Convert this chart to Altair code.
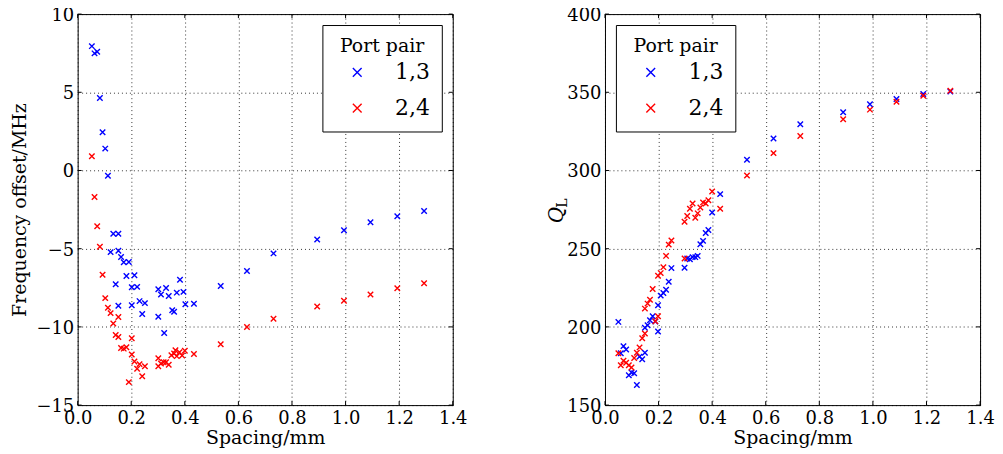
import altair as alt
import pandas as pd

# ---------------- data ----------------
# Left panel: frequency offset (MHz) vs spacing (mm)
f13_x = [0.053, 0.063, 0.073, 0.083, 0.093, 0.103, 0.113, 0.123, 0.133, 0.142, 0.152, 0.152, 0.152,
         0.162, 0.172, 0.182, 0.191, 0.202, 0.202, 0.212, 0.222, 0.231, 0.241, 0.251, 0.301, 0.301,
         0.311, 0.323, 0.330, 0.340, 0.353, 0.360, 0.370, 0.382, 0.395, 0.402, 0.434, 0.534, 0.632,
         0.731, 0.894, 0.994, 1.093, 1.193, 1.293]
f13_y = [7.95, 7.49, 7.59, 4.64, 2.44, 1.40, -0.34, -5.22, -4.05, -7.27, -4.05, -5.13, -8.65,
         -5.53, -5.87, -6.74, -5.85, -7.46, -8.61, -6.70, -7.44, -8.35, -9.18, -8.48, -7.59, -9.35,
         -7.93, -10.39, -7.51, -8.02, -8.93, -9.03, -7.81, -6.98, -7.76, -8.55, -8.52, -7.38, -6.43,
         -5.30, -4.41, -3.82, -3.31, -2.93, -2.59]
f24_x = [0.053, 0.063, 0.073, 0.083, 0.093, 0.103, 0.113, 0.123, 0.133, 0.142, 0.152, 0.152, 0.162,
         0.172, 0.182, 0.191, 0.202, 0.202, 0.212, 0.222, 0.231, 0.241, 0.251, 0.301, 0.301, 0.311,
         0.321, 0.330, 0.340, 0.350, 0.360, 0.365, 0.370, 0.380, 0.390, 0.400, 0.434, 0.534, 0.632,
         0.731, 0.894, 0.994, 1.093, 1.193, 1.293]
f24_y = [0.91, -1.70, -3.56, -4.88, -6.66, -8.16, -8.78, -9.12, -9.78, -10.52, -10.65, -9.37, -11.35,
         -11.39, -11.30, -13.53, -10.73, -11.77, -12.21, -12.68, -12.38, -13.15, -12.51, -12.00, -12.51, -12.34,
         -12.26, -12.26, -12.42, -11.81, -11.70, -11.49, -11.87, -11.62, -11.83, -11.53, -11.73, -11.11, -10.01,
         -9.48, -8.69, -8.33, -7.93, -7.53, -7.21]

# Right panel: loaded Q vs spacing (mm)
q13_x = [0.050, 0.059, 0.069, 0.079, 0.089, 0.099, 0.109, 0.119, 0.129, 0.139, 0.149, 0.149, 0.159,
         0.168, 0.178, 0.188, 0.198, 0.198, 0.208, 0.218, 0.228, 0.238, 0.248, 0.297, 0.307, 0.317,
         0.327, 0.337, 0.346, 0.356, 0.366, 0.376, 0.386, 0.400, 0.430, 0.530, 0.629, 0.729, 0.889,
         0.989, 1.088, 1.188, 1.289]
q13_y = [203.2, 183.1, 187.7, 185.6, 169.1, 170.8, 170.4, 162.9, 181.0, 179.3, 183.5, 199.4, 201.1,
         204.3, 206.8, 203.4, 197.1, 213.8, 220.0, 221.7, 223.8, 228.9, 237.6, 237.8, 243.7, 243.3,
         244.6, 244.6, 245.4, 252.9, 255.0, 260.0, 262.0, 273.2, 284.9, 306.9, 320.5, 329.6, 337.2,
         342.3, 345.7, 348.9, 350.5]
q24_x = [0.050, 0.059, 0.069, 0.079, 0.089, 0.099, 0.109, 0.119, 0.129, 0.139, 0.149, 0.149, 0.159,
         0.168, 0.178, 0.188, 0.198, 0.198, 0.208, 0.218, 0.228, 0.238, 0.248, 0.297, 0.297, 0.307,
         0.317, 0.327, 0.337, 0.346, 0.356, 0.366, 0.376, 0.386, 0.400, 0.430, 0.530, 0.629, 0.729,
         0.889, 0.989, 1.088, 1.188, 1.289]
q24_y = [183.1, 175.5, 178.4, 177.1, 175.5, 174.0, 180.1, 183.5, 186.9, 192.8, 195.8, 211.7, 214.9,
         217.4, 224.2, 203.6, 206.8, 232.7, 234.4, 238.2, 245.4, 252.6, 255.2, 243.7, 267.2, 270.9,
         275.5, 278.9, 269.8, 272.6, 276.4, 279.6, 278.9, 281.0, 286.6, 275.5, 296.8, 311.1, 322.0,
         332.8, 338.9, 344.0, 347.8, 351.0]

pairs = ["1,3", "2,4"]
pair_colors = ["#0000ff", "#ff0000"]

x_ticks = [0.0, 0.2, 0.4, 0.6, 0.8, 1.0, 1.2, 1.4]
f_ticks = [-15, -10, -5, 0, 5, 10]
q_ticks = [150, 200, 250, 300, 350, 400]

# ---------------- styling ----------------
W, H = 377, 393
FONT = "DejaVu Serif"
XPATH = "M-1,-1L1,1M-1,1L1,-1"
XPATH_LEG = "M-0.4,-0.4L0.4,0.4M-0.4,0.4L0.4,-0.4"
TL = 4  # inward tick length


def long_df(xs_a, ys_a, xs_b, ys_b):
    return pd.DataFrame({
        "spacing": list(xs_a) + list(xs_b),
        "val": list(ys_a) + list(ys_b),
        "pair": [pairs[0]] * len(xs_a) + [pairs[1]] * len(xs_b),
    })


def panel(df, ydomain, yticks, ytitle, legend_orient):
    xscale = alt.Scale(domain=[0, 1.4], nice=False, zero=False, padding=0)
    yscale = alt.Scale(domain=ydomain, nice=False, zero=False, padding=0)
    xaxis = alt.Axis(values=x_ticks, format=".1f", title="Spacing/mm", labelFlush=False)
    yaxis = alt.Axis(values=yticks, format="d", title=ytitle, labelOffset=1.5,
                     labelFlush=False)
    pts = alt.Chart(df).mark_point(
        shape=XPATH, filled=False, size=30, strokeWidth=1.4, opacity=1
    ).encode(
        x=alt.X("spacing:Q", scale=xscale, axis=xaxis),
        y=alt.Y("val:Q", scale=yscale, axis=yaxis),
        color=alt.Color("pair:N",
                        scale=alt.Scale(domain=pairs, range=pair_colors),
                        legend=alt.Legend(
                            title="Port pair", orient=legend_orient, offset=11,
                            padding=12, strokeColor="black", fillColor="white",
                            titleFont=FONT, titleFontSize=19, titleFontWeight="normal",
                            titleColor="black", titlePadding=4.5, titleAnchor="middle",
                            labelFont=FONT, labelFontSize=22, labelColor="black",
                            labelOffset=26, rowPadding=13,
                            symbolType=XPATH_LEG, symbolSize=484, symbolOffset=11,
                            symbolStrokeWidth=1.4,
                        )),
    )
    xt = pd.DataFrame({"spacing": x_ticks})
    yt = pd.DataFrame({"val": yticks})
    rule = dict(color="black", strokeWidth=1)
    bt = alt.Chart(xt).mark_rule(**rule).encode(
        x=alt.X("spacing:Q", scale=xscale, axis=xaxis), y=alt.value(H), y2=alt.value(H - TL))
    tt = alt.Chart(xt).mark_rule(**rule).encode(
        x=alt.X("spacing:Q", scale=xscale, axis=xaxis), y=alt.value(0), y2=alt.value(TL))
    lt = alt.Chart(yt).mark_rule(**rule).encode(
        y=alt.Y("val:Q", scale=yscale, axis=yaxis), x=alt.value(0), x2=alt.value(TL))
    rt = alt.Chart(yt).mark_rule(**rule).encode(
        y=alt.Y("val:Q", scale=yscale, axis=yaxis), x=alt.value(W), x2=alt.value(W - TL))
    return [pts, bt, tt, lt, rt]


left_layers = panel(long_df(f13_x, f13_y, f24_x, f24_y), [-15, 10], f_ticks,
                    "Frequency offset/MHz", "top-right")
right_layers = panel(long_df(q13_x, q13_y, q24_x, q24_y), [150, 400], q_ticks, "",
                     "top-left")

one = pd.DataFrame({"a": [0]})
q_txt = alt.Chart(one).mark_text(font=FONT, fontStyle="italic", fontSize=20, angle=270,
                                 color="black").encode(
    x=alt.value(-48), y=alt.value(202), text=alt.value("Q"))
l_txt = alt.Chart(one).mark_text(font=FONT, fontSize=14, angle=270, color="black").encode(
    x=alt.value(-42), y=alt.value(190), text=alt.value("L"))

left = alt.layer(*left_layers).properties(width=W, height=H)
right = alt.layer(*right_layers, q_txt, l_txt).properties(width=W, height=H)

chart = alt.hconcat(left, right, spacing=79).resolve_legend(color="independent").properties(
    padding={"left": 2, "top": -3, "right": 0, "bottom": 0}
).configure_view(
    stroke="black", strokeWidth=1
).configure_axis(
    domain=False, ticks=False,
    grid=True, gridColor="black", gridDash=[1, 3], gridWidth=1, gridOpacity=0.8,
    labelFont=FONT, labelFontSize=18, labelColor="black", labelPadding=4,
    titleFont=FONT, titleFontSize=19, titleFontWeight="normal", titleColor="black",
).configure_axisX(titlePadding=2).configure_axisY(titlePadding=6)

chart.save("out.html", embed_options={"renderer": "svg", "actions": False})
